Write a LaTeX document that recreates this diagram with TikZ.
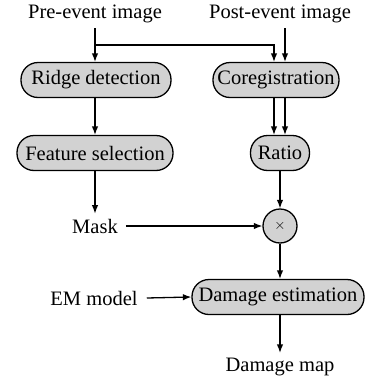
\documentclass[tikz,border=0pt]{standalone}
\usepackage{fontspec}
\setmainfont{Liberation Serif}
\usetikzlibrary{arrows.meta,calc}
\begin{document}
\begin{tikzpicture}[x=1pt,y=-1pt,
  font=\fontsize{20.5}{24}\selectfont,
  box/.style={draw,line width=1.3pt,fill=gray!35,rounded corners=17pt,minimum height=35pt,inner sep=0pt},
  lbl/.style={inner sep=0pt},
  arr/.style={line width=1.3pt,-{Latex[length=8.5pt,width=6.5pt]}},
  ln/.style={line width=1.3pt}]
\useasboundingbox (0,0) rectangle (367,381);
\node[lbl] (pre) at (95,14) {Pre-event image};
\node[lbl] (post) at (280,14) {Post-event image};
\node[box,minimum width=150pt] (ridge) at (96,80) {Ridge detection};
\node[box,minimum width=126pt] (coreg) at (276,80) {Coregistration};
\node[box,minimum width=156pt] (feat) at (95,153) {Feature selection};
\node[box,minimum width=59pt] (ratio) at (280,153) {Ratio};
\node[lbl] (mask) at (95,226) {Mask};
\node[draw,line width=1.3pt,fill=gray!35,circle,minimum size=34pt,inner sep=0pt] (mult) at (280,226) {\fontsize{14}{14}\selectfont$\times$};
\node[lbl] (em) at (94,298) {EM model};
\node[box,minimum width=172pt] (dam) at (278,297) {Damage estimation};
\node[lbl] (dmap) at (280,367) {Damage map};
\coordinate (split) at (95,45);
% connectors
\draw[ln] ($(pre.south)+(0,5)$) -- (split);
\draw[arr] (split) -- (split |- ridge.north);
\draw[arr] (split) -| ($(coreg.north)+(-2,0)$);
\draw[arr] ($(post.south)+(5,5)$) -- ($(coreg.north)+(9,0)$);
\draw[arr] (ridge.south -| split) -- (feat.north -| split);
\draw[arr] ($(coreg.south)+(-2,0)$) -- ($(ratio.north)+(-6,0)$);
\draw[arr] ($(coreg.south)+(9,0)$) -- ($(ratio.north)+(5,0)$);
\draw[arr] (feat.south -| split) -- ($(mask.north)+(0,-5)$);
\draw[arr] ($(mask.east)+(8,0)$) -- (mult.west);
\draw[arr] (ratio.south) -- (mult.north);
\draw[arr] (mult.south) -- (mult.south |- dam.north);
\draw[arr] ($(em.east)+(9,0)$) -- (dam.west);
\draw[arr] (dam.south -| dmap) -- ($(dmap.north)+(0,-5)$);
\end{tikzpicture}
\end{document}
